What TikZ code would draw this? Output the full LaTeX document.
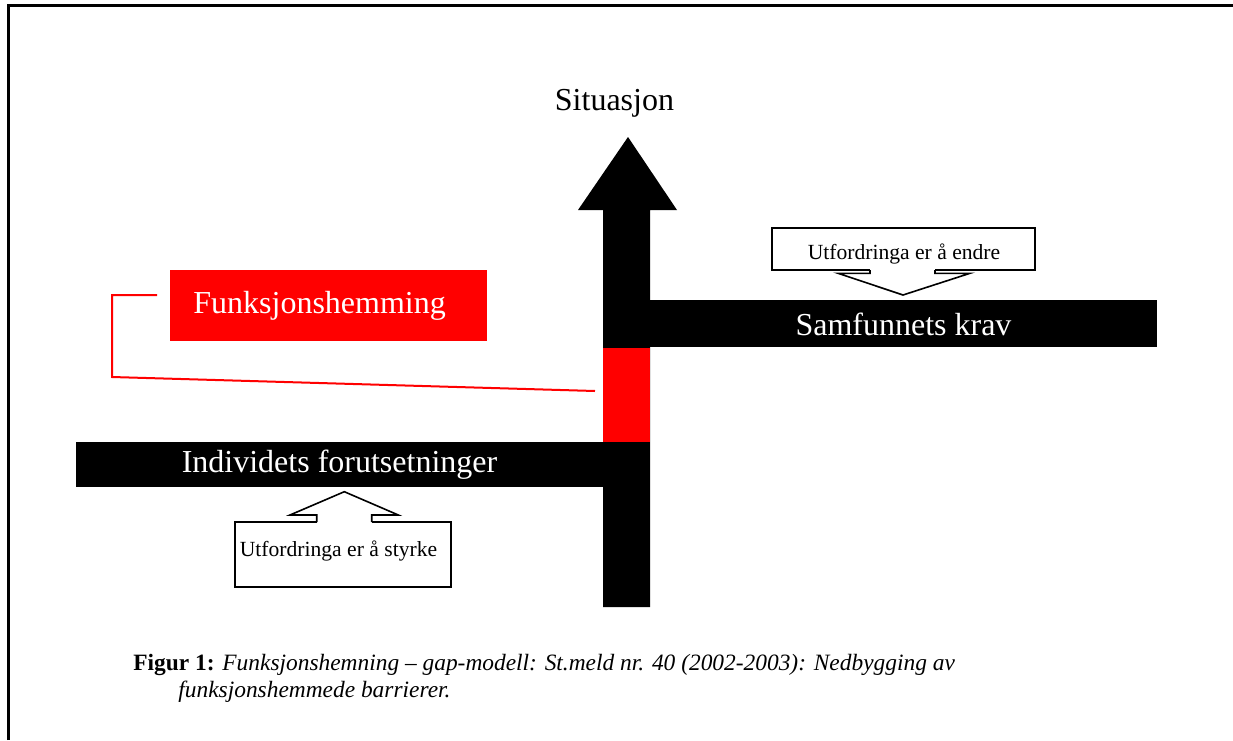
\documentclass[tikz,border=0pt]{standalone}
\usepackage{fontspec}
\setmainfont{Liberation Serif}
\usetikzlibrary{positioning}

\begin{document}
\begin{tikzpicture}[x=0.5pt,y=-0.5pt,
    bigtext/.style={font=\fontsize{16}{19}\selectfont,inner sep=0pt},
    smalltext/.style={font=\fontsize{10.8}{13}\selectfont,inner sep=0pt},
    captext/.style={font=\fontsize{11.7}{14}\selectfont,inner sep=0pt,anchor=base west},
    callout/.style={draw,line width=0.8pt,fill=white},
    redline/.style={red,line width=1pt}]
    \useasboundingbox (0,0) rectangle (1233,740);
    % frame
    \draw[line width=1.1pt] (8.5,740) -- (8.5,5.5) -- (1233,5.5);
    % the vertical arrow and the two bars
    \fill (603,607) -- (603,210) -- (578,210) -- (628,137) -- (677,210) -- (650,210) -- (650,607) -- cycle;
    \fill[red] (603,348) rectangle (650,442);
    \fill (603,300) rectangle (1157,347);
    \fill (76,442) rectangle (650,487);
    \node[bigtext,anchor=base] (sit) at (614.5,110) {Situasjon};
    \node[bigtext,white,anchor=base] (krav) at (903.5,335) {Samfunnets krav};
    \node[bigtext,white,anchor=base] (indiv) at (339.5,472) {Individets forutsetninger};
    % red label
    \node[fill=red,minimum width=158.5pt,minimum height=35.5pt,inner sep=0pt] (funk) at (328.5,305.5) {};
    \node[bigtext,white,anchor=base west] (funktxt) at (193,313) {Funksjonshemming};
    \coordinate (lstart) at (157,295);
    \coordinate (lend) at (595,391);
    \draw[redline] (lstart) -- (112,295) -- (112,377) -- (lend);
    % upper callout
    \node[callout,minimum width=131.5pt,minimum height=21pt,inner sep=0pt] (endre) at (903.5,249) {};
    \node[smalltext,anchor=base] (endretxt) at (904,259) {Utfordringa er å endre};
    \fill[white] (870,268) rectangle (935,274);
    \draw[line width=0.8pt,line join=miter] (870,270) -- (870,273.3) -- (838,273.3) -- (903,295) -- (970,273.3) -- (935,273.3) -- (935,270);
    % lower callout
    \node[callout,minimum width=108pt,minimum height=32.5pt,inner sep=0pt] (styrke) at (343,554.5) {};
    \node[smalltext,anchor=base] (styrketxt) at (338.5,556) {Utfordringa er å styrke};
    \fill[white] (316.7,515) rectangle (371.7,524);
    \draw[line width=0.8pt,line join=miter] (316.7,522) -- (316.7,515) -- (290,515) -- (344.3,491.7) -- (398.3,515) -- (371.7,515) -- (371.7,522);
    % caption
    \node[captext] (cap1) at (133,670)
        {\textbf{Figur 1:} \textit{Funksjonshemning – gap-modell: St.meld nr. 40 (2002-2003): Nedbygging av}};
    \node[captext] (cap2) at (178,697) {\textit{funksjonshemmede barrierer.}};
\end{tikzpicture}
\end{document}
